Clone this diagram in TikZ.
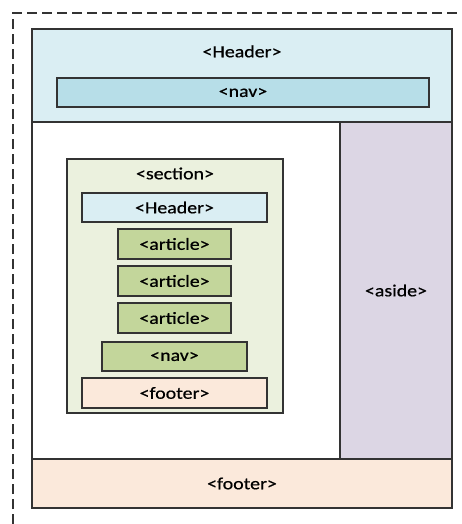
\documentclass[tikz,border=0pt]{standalone}
\usepackage{fontspec}
\setmainfont[FakeStretch=1.17,FakeBold=0.6]{Carlito}
\definecolor{hdrblue}{HTML}{DAEEF3}
\definecolor{navblue}{HTML}{B7DEE8}
\definecolor{asidepurple}{HTML}{DCD6E4}
\definecolor{footpeach}{HTML}{FBE9DB}
\definecolor{sectgreen}{HTML}{EBF1DE}
\definecolor{artgreen}{HTML}{C3D69B}
\definecolor{edge}{HTML}{333333}
\tikzset{
  box/.style={draw=edge, line width=1.1pt, rectangle, inner sep=0pt, font=\fontsize{17}{19}\selectfont},
  lbl/.style={inner sep=0pt, font=\fontsize{17}{19}\selectfont, text=black},
  pageframe/.style={draw=edge, line width=1.1pt, dash pattern=on 10pt off 5pt},
}
\begin{document}
\begin{tikzpicture}[x=1pt,y=-1pt]
\useasboundingbox (0,0) rectangle (462,524);
% outer dashed page frame (continues past the right and bottom edges)
\coordinate (fa) at (13,524);
\coordinate (fb) at (13,13);
\coordinate (fc) at (462,13);
\draw[pageframe] (fa) -- (fb) -- (fc);

% page body
\node[box, fill=white, minimum width=308pt, minimum height=337pt] (body) at (186,290.5) {};
\node[box, fill=asidepurple, minimum width=112pt, minimum height=337pt] (aside) at (396,290.5) {<aside>};
\node[box, fill=hdrblue, minimum width=420pt, minimum height=93pt] (hdr) at (242,75.5) {};
\node[lbl] (hdrtxt) at ([yshift=-23pt]hdr.north) {<Header>};
\node[box, fill=navblue, minimum width=372pt, minimum height=29pt] (nav) at (243,92.5) {<nav>};
\node[box, fill=footpeach, minimum width=420pt, minimum height=49pt] (foot) at (242,483.5) {<footer>};

% section with its children
\node[box, fill=sectgreen, minimum width=216pt, minimum height=254pt] (sect) at (175,286) {};
\node[lbl] (secttxt) at ([yshift=-15pt]sect.north) {<section>};
\node[box, fill=hdrblue, minimum width=185pt, minimum height=29pt] (shdr) at (174.5,207.5) {<Header>};
\node[box, fill=artgreen, minimum width=113pt, minimum height=30pt] (art1) at (174.5,244) {<article>};
\node[box, fill=artgreen, minimum width=113pt, minimum height=30pt] (art2) at (174.5,281) {<article>};
\node[box, fill=artgreen, minimum width=113pt, minimum height=30pt] (art3) at (174.5,318) {<article>};
\node[box, fill=artgreen, minimum width=145pt, minimum height=29pt] (snav) at (174.5,356.5) {<nav>};
\node[box, fill=footpeach, minimum width=185pt, minimum height=30pt] (sfoot) at (174.5,393) {<footer>};
\end{tikzpicture}
\end{document}
